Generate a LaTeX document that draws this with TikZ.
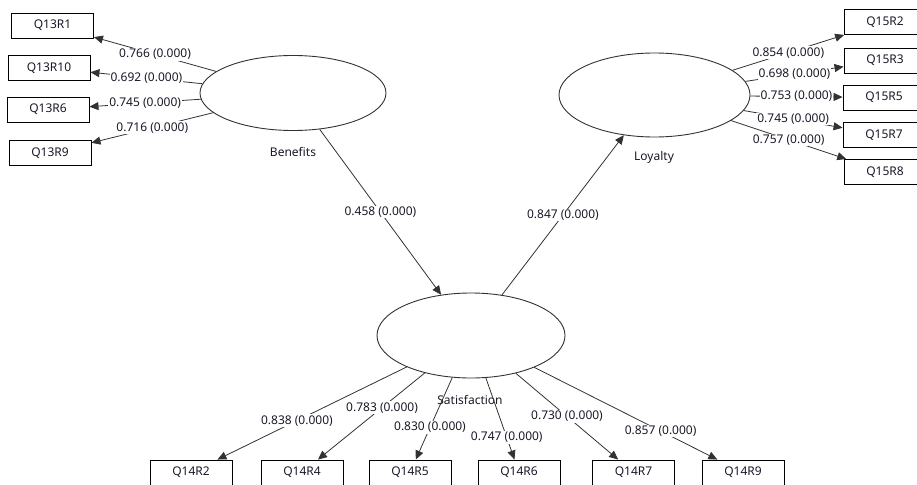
\documentclass[tikz,border=0pt]{standalone}
\usepackage{fontspec}
\setmainfont{Noto Sans}
\usetikzlibrary{shapes.geometric,arrows.meta}
\definecolor{linec}{RGB}{50,50,50}
\definecolor{txt}{RGB}{25,25,40}
\begin{document}
\begin{tikzpicture}[x=1pt,y=-1pt,
  lat/.style={ellipse,draw=linec,line width=0.9pt,inner sep=0pt},
  ind/.style={rectangle,draw=black,line width=0.9pt,minimum width=82pt,minimum height=25pt,inner sep=0pt,font=\fontsize{12}{14}\selectfont,text=txt},
  pth/.style={draw=linec,line width=0.8pt,-{Triangle[length=9pt,width=8pt]}},
  coef/.style={fill=white,inner sep=1pt,font=\fontsize{12}{14}\selectfont,text=txt},
  latlab/.style={font=\fontsize{12}{14}\selectfont,text=txt}
]
\useasboundingbox (0,0) rectangle (917,484);
\clip (0,0) rectangle (917,484);
% latent variables
\node[lat,minimum width=186pt,minimum height=75pt] (ben) at (293,93) {};
\node[lat,minimum width=191pt,minimum height=84pt] (loy) at (654.5,95) {};
\node[lat,minimum width=188pt,minimum height=85pt] (sat) at (471,335.5) {};
\node[latlab] (benl) at (293,152) {Benefits};
\node[latlab] (loyl) at (654,157) {Loyalty};
\node[latlab] (satl) at (470,400) {Satisfaction};
% Benefits indicators
\node[ind] (q13r1) at (52.5,25.5) {Q13R1};
\node[ind] (q13r10) at (49,68) {Q13R10};
\node[ind] (q13r6) at (48,109.5) {Q13R6};
\node[ind] (q13r9) at (50,153) {Q13R9};
% Loyalty indicators
\node[ind] (q15r2) at (885,22) {Q15R2};
\node[ind] (q15r3) at (885,60.5) {Q15R3};
\node[ind] (q15r5) at (884,97.5) {Q15R5};
\node[ind] (q15r7) at (884,135) {Q15R7};
\node[ind] (q15r8) at (885,172) {Q15R8};
% Satisfaction indicators
\node[ind] (q14r2) at (191,472.5) {Q14R2};
\node[ind] (q14r4) at (302,472.5) {Q14R4};
\node[ind] (q14r5) at (410,472.5) {Q14R5};
\node[ind] (q14r6) at (519,472.5) {Q14R6};
\node[ind] (q14r7) at (633.5,472.5) {Q14R7};
\node[ind] (q14r9) at (743,472.5) {Q14R9};
% outer loadings
\draw[pth] (ben) -- node[coef]{0.766 (0.000)} (q13r1);
\draw[pth] (ben) -- node[coef]{0.692 (0.000)} (q13r10);
\draw[pth] (ben) -- node[coef]{0.745 (0.000)} (q13r6);
\draw[pth] (ben) -- node[coef]{0.716 (0.000)} (q13r9);
\draw[pth] (loy) -- node[coef]{0.854 (0.000)} (q15r2);
\draw[pth] (loy) -- node[coef]{0.698 (0.000)} (q15r3);
\draw[pth] (loy) -- node[coef]{0.753 (0.000)} (q15r5);
\draw[pth] (loy) -- node[coef]{0.745 (0.000)} (q15r7);
\draw[pth] (loy) -- node[coef]{0.757 (0.000)} (q15r8);
\draw[pth] (sat) -- node[coef,pos=0.58]{0.838 (0.000)} (q14r2);
\draw[pth] (sat) -- node[coef,pos=0.40]{0.783 (0.000)} (q14r4);
\draw[pth] (sat) -- node[coef,pos=0.61]{0.830 (0.000)} (q14r5);
\draw[pth] (sat) -- node[coef,pos=0.73]{0.747 (0.000)} (q14r6);
\draw[pth] (sat) -- node[coef,pos=0.50]{0.730 (0.000)} (q14r7);
\draw[pth] (sat) -- node[coef,pos=0.69]{0.857 (0.000)} (q14r9);
% structural paths
\draw[pth] (ben) -- node[coef]{0.458 (0.000)} (sat);
\draw[pth] (sat) -- node[coef]{0.847 (0.000)} (loy);
\end{tikzpicture}
\end{document}
